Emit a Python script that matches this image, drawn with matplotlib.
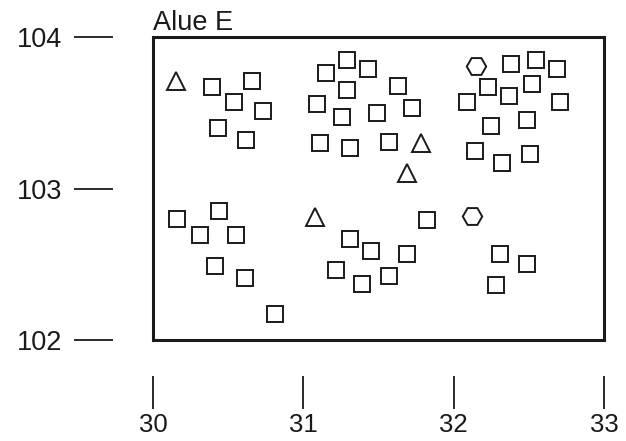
import matplotlib.pyplot as plt
from matplotlib.patches import Rectangle

plt.rcParams['font.family'] = ['Liberation Sans', 'DejaVu Sans']

# station positions (x = easting, y = northing)
sq_x = [30.39, 30.66, 30.54, 30.73, 30.43, 30.62,
        31.15, 31.29, 31.43, 31.29, 31.09, 31.63, 31.26, 31.49, 31.72, 31.11, 31.31, 31.57,
        32.38, 32.55, 32.69, 32.23, 32.52, 32.37, 32.09, 32.71, 32.25, 32.49, 32.14, 32.32, 32.51,
        30.16, 30.44, 30.31, 30.55, 30.41, 30.61, 30.81,
        31.82, 31.31, 31.45, 31.69, 31.22, 31.39, 31.57,
        32.31, 32.49, 32.28]
sq_y = [103.67, 103.71, 103.57, 103.51, 103.40, 103.32,
        103.76, 103.85, 103.79, 103.65, 103.56, 103.68, 103.47, 103.50, 103.53, 103.30, 103.27, 103.31,
        103.82, 103.85, 103.79, 103.67, 103.69, 103.61, 103.57, 103.57, 103.41, 103.45, 103.25, 103.17, 103.23,
        102.80, 102.85, 102.69, 102.69, 102.49, 102.41, 102.17,
        102.79, 102.67, 102.59, 102.57, 102.46, 102.37, 102.42,
        102.57, 102.50, 102.36]

tri_x = [30.15, 31.78, 31.69, 31.08]
tri_y = [103.71, 103.30, 103.10, 102.81]

hex_x = [32.15, 32.12]
hex_y = [103.81, 102.82]

xticks = [30, 31, 32, 33]
yticks = [102, 103, 104]

ink = '#1a1a1a'

fig = plt.figure(figsize=(6.26, 4.41), dpi=100)
ax = fig.add_axes([0.2444, 0.229, 0.7204, 0.687])

ax.plot(sq_x, sq_y, ls='none', marker='s', ms=12, mfc='white', mec=ink, mew=1.4)
ax.plot(tri_x, tri_y, ls='none', marker='^', ms=12.5, mfc='white', mec=ink, mew=1.4)
ax.plot(hex_x, hex_y, ls='none', marker='H', ms=14, mfc='white', mec=ink, mew=1.4)

ax.set_xlim(30, 33)
ax.set_ylim(102, 104)

# frame drawn separately, ticks stand off from it
for s in ax.spines.values():
    s.set_visible(False)
ax.spines['left'].set_position(('outward', 29))
ax.spines['bottom'].set_position(('outward', 26))
ax.add_patch(Rectangle((0, 0), 1, 1, transform=ax.transAxes, fill=False,
                       ec=ink, lw=2.2, clip_on=False))

ax.set_xticks(xticks)
ax.set_yticks(yticks)
ax.tick_params(axis='y', length=28, width=1.3, pad=8.5, labelsize=19.5, color=ink, labelcolor=ink)
ax.tick_params(axis='x', length=24, width=1.3, pad=2.5, labelsize=18.5, color=ink, labelcolor=ink)

ax.text(0, 1.005, 'Alue E', transform=ax.transAxes, ha='left', va='bottom',
        fontsize=19.5, color=ink)

fig.savefig('out.png', dpi=100, facecolor='white')
